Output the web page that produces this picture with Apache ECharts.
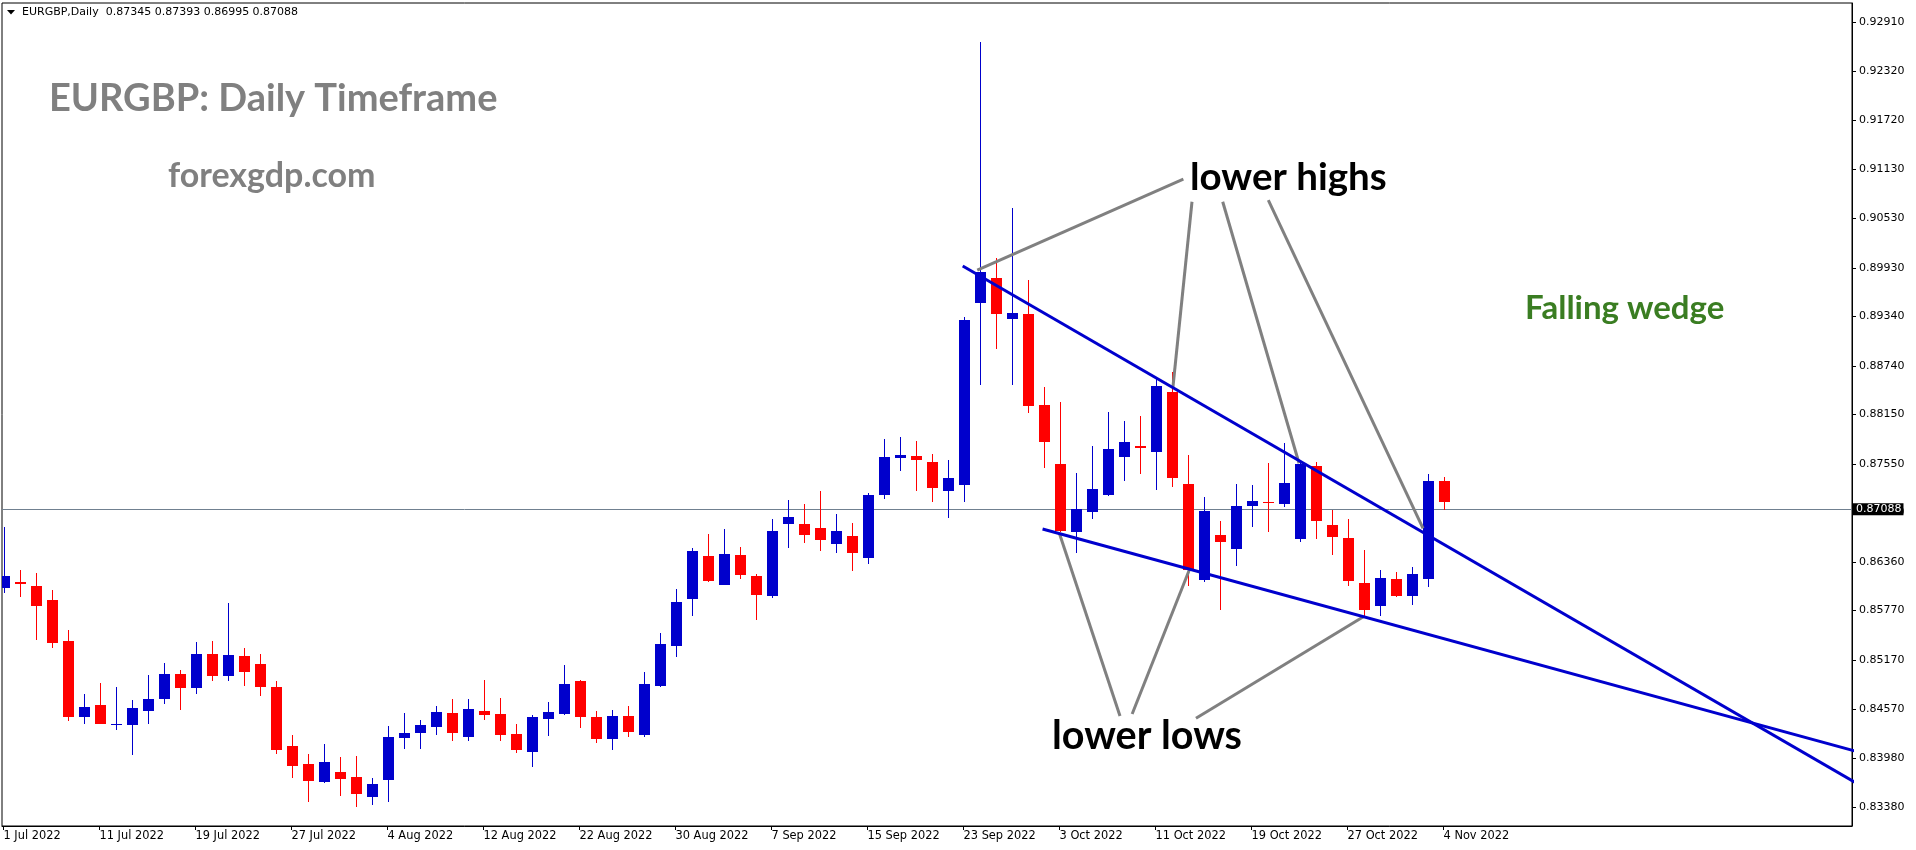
<!DOCTYPE html>
<html>
<head>
<meta charset="utf-8">
<script src="https://cdn.jsdelivr.net/npm/echarts@6/dist/echarts.min.js"></script>
<style>
html,body{margin:0;padding:0;background:#fff;}
#chart{width:1916px;height:850px;}
</style>
</head>
<body>
<div id="chart"></div>
<script>
// ---- data ----
const dates = [
'2022-07-01','2022-07-04','2022-07-05','2022-07-06','2022-07-07','2022-07-08','2022-07-11','2022-07-12','2022-07-13','2022-07-14',
'2022-07-15','2022-07-18','2022-07-19','2022-07-20','2022-07-21','2022-07-22','2022-07-25','2022-07-26','2022-07-27','2022-07-28',
'2022-07-29','2022-08-01','2022-08-02','2022-08-03','2022-08-04','2022-08-05','2022-08-08','2022-08-09','2022-08-10','2022-08-11',
'2022-08-12','2022-08-15','2022-08-16','2022-08-17','2022-08-18','2022-08-19','2022-08-22','2022-08-23','2022-08-24','2022-08-25',
'2022-08-26','2022-08-29','2022-08-30','2022-08-31','2022-09-01','2022-09-02','2022-09-05','2022-09-06','2022-09-07','2022-09-08',
'2022-09-09','2022-09-12','2022-09-13','2022-09-14','2022-09-15','2022-09-16','2022-09-19','2022-09-20','2022-09-21','2022-09-22',
'2022-09-23','2022-09-26','2022-09-27','2022-09-28','2022-09-29','2022-09-30','2022-10-03','2022-10-04','2022-10-05','2022-10-06',
'2022-10-07','2022-10-10','2022-10-11','2022-10-12','2022-10-13','2022-10-14','2022-10-17','2022-10-18','2022-10-19','2022-10-20',
'2022-10-21','2022-10-24','2022-10-25','2022-10-26','2022-10-27','2022-10-28','2022-10-31','2022-11-01','2022-11-02','2022-11-03',
'2022-11-04'];

const opens = [0.86048,0.86121,0.86069,0.85899,0.85401,0.84482,0.84624,0.84382,0.84385,0.84555,
0.84701,0.85001,0.84834,0.85243,0.84980,0.85219,0.85122,0.84843,0.84127,0.83908,
0.83693,0.83811,0.83750,0.83511,0.83717,0.84227,0.84288,0.84361,0.84527,0.84241,
0.84552,0.84515,0.84276,0.84059,0.84459,0.84519,0.84919,0.84481,0.84216,0.84493,
0.84264,0.84860,0.85337,0.85909,0.86437,0.86087,0.86450,0.86194,0.85943,0.86820,
0.86824,0.86778,0.86578,0.86680,0.86407,0.87170,0.87622,0.87647,0.87574,0.87226,
0.87299,0.89508,0.89808,0.89307,0.89375,0.88266,0.87550,0.86728,0.86971,0.87174,
0.87639,0.87765,0.87699,0.88424,0.87307,0.86145,0.86688,0.86522,0.87044,0.87089,
0.87068,0.86643,0.87526,0.86810,0.86652,0.86105,0.85830,0.86154,0.85951,0.86154,
0.87345];

const highs = [0.86789,0.86263,0.86227,0.86020,0.85535,0.84758,0.84891,0.84847,0.84685,0.84989,
0.85134,0.85049,0.85389,0.85401,0.85863,0.85316,0.85243,0.84916,0.84260,0.84029,
0.84155,0.83993,0.84005,0.83742,0.84373,0.84531,0.84446,0.84616,0.84697,0.84697,
0.84931,0.84709,0.84396,0.84507,0.84664,0.85111,0.84933,0.84554,0.84566,0.84617,
0.85026,0.85503,0.86036,0.86535,0.86705,0.86765,0.86547,0.86220,0.86888,0.87119,
0.87067,0.87225,0.86948,0.86837,0.87204,0.87848,0.87873,0.87829,0.87671,0.87599,
0.89338,0.92673,0.90055,0.90654,0.89784,0.88489,0.88303,0.87444,0.87769,0.88181,
0.88072,0.88133,0.88590,0.88667,0.87659,0.87149,0.86858,0.87307,0.87295,0.87562,
0.87805,0.87578,0.87578,0.86992,0.86882,0.86506,0.86263,0.86239,0.86303,0.87432,
0.87393];

const lows = [0.85988,0.85939,0.85417,0.85316,0.84434,0.84397,0.84390,0.84324,0.84021,0.84397,
0.84636,0.84567,0.84762,0.84919,0.84919,0.84859,0.84737,0.84033,0.83742,0.83450,
0.83681,0.83523,0.83390,0.83414,0.83450,0.84094,0.84094,0.84264,0.84181,0.84193,
0.84448,0.84181,0.84038,0.83867,0.84242,0.84507,0.84340,0.84157,0.84072,0.84230,
0.84230,0.84848,0.85209,0.85700,0.86120,0.86080,0.86152,0.85653,0.85929,0.86535,
0.86586,0.86493,0.86467,0.86250,0.86335,0.87123,0.87464,0.87228,0.87092,0.86898,
0.87092,0.88509,0.88950,0.88509,0.88173,0.87505,0.86730,0.86473,0.86886,0.87165,
0.87347,0.87432,0.87238,0.87275,0.86073,0.86121,0.85781,0.86315,0.86789,0.86728,
0.87032,0.86607,0.86643,0.86449,0.86073,0.85705,0.85705,0.85939,0.85842,0.86057,
0.86995];

const closes = [0.86190,0.86090,0.85830,0.85381,0.84482,0.84600,0.84397,0.84397,0.84588,0.84697,
0.85001,0.84834,0.85243,0.84980,0.85231,0.85029,0.84847,0.84082,0.83887,0.83705,
0.83932,0.83730,0.83548,0.83665,0.84236,0.84288,0.84385,0.84539,0.84290,0.84576,
0.84497,0.84254,0.84072,0.84481,0.84541,0.84882,0.84473,0.84216,0.84493,0.84293,
0.84882,0.85367,0.85878,0.86496,0.86126,0.86462,0.86198,0.85955,0.86731,0.86910,
0.86685,0.86624,0.86731,0.86467,0.87179,0.87639,0.87664,0.87593,0.87253,0.87380,
0.89298,0.89877,0.89375,0.89380,0.88258,0.87821,0.86737,0.87004,0.87247,0.87732,
0.87817,0.87748,0.88497,0.87384,0.86267,0.86980,0.86607,0.87040,0.87101,0.87080,
0.87319,0.87550,0.86862,0.86668,0.86133,0.85781,0.86166,0.85951,0.86215,0.87344,
0.87088];

// x-axis ticks: bar index -> label
const xTickIndex = [0,6,12,18,24,30,36,42,48,54,60,66,72,78,84,90];
const xTickLabels = ['1 Jul 2022','11 Jul 2022','19 Jul 2022','27 Jul 2022','4 Aug 2022','12 Aug 2022','22 Aug 2022','30 Aug 2022',
  '7 Sep 2022','15 Sep 2022','23 Sep 2022','3 Oct 2022','11 Oct 2022','19 Oct 2022','27 Oct 2022','4 Nov 2022'];

// y-axis tick labels
const yTicks = [0.92910,0.92320,0.91720,0.91130,0.90530,0.89930,0.89340,0.88740,0.88150,0.87550,
  0.86960,0.86360,0.85770,0.85170,0.84570,0.83980,0.83380];

// wedge trend lines [barIndex, price]
const upperWedge = [[59.95, 0.89954], [116, 0.83654]];
const lowerWedge = [[64.94, 0.86761], [116, 0.84050]];

// annotation pointer lines [barIndex, price]
const highNotes = [
  [[73.74, 0.91010], [60.86, 0.89905]],
  [[74.28, 0.90734], [73.09, 0.88485]],
  [[76.20, 0.90734], [80.97, 0.87559]],
  [[79.05, 0.90755], [88.72, 0.86769]]
];
const lowNotes = [
  [[69.78, 0.84491], [65.99, 0.86709]],
  [[70.54, 0.84515], [74.11, 0.86263]],
  [[74.53, 0.84463], [84.99, 0.85696]]
];

const header = 'EURGBP,Daily  0.87345 0.87393 0.86995 0.87088';
const lastPrice = closes[closes.length - 1];

// ---- chart ----
const chart = echarts.init(document.getElementById('chart'), null, {renderer: 'canvas'});
const UP = '#0000CC', DOWN = '#FF0000';
const candleRows = dates.map((d, i) => [i, opens[i], highs[i], lows[i], closes[i]]);

function renderCandle(params, api) {
  const i = api.value(0), o = api.value(1), h = api.value(2), l = api.value(3), c = api.value(4);
  const pO = api.coord([i, o]), pC = api.coord([i, c]), pH = api.coord([i, h]), pL = api.coord([i, l]);
  const bw = Math.round(api.size([1, 0])[0] * 0.69);
  const x = Math.round(pO[0]);
  const color = c >= o ? UP : DOWN;
  const top = Math.round(Math.min(pO[1], pC[1]));
  const bot = Math.round(Math.max(pO[1], pC[1]));
  const bh = Math.max(1, bot - top);
  return {
    type: 'group',
    children: [
      {type: 'line', shape: {x1: x + 0.5, y1: Math.round(pH[1]), x2: x + 0.5, y2: Math.round(pL[1])},
       style: {stroke: color, lineWidth: 1}},
      {type: 'rect', shape: {x: x + 1 - Math.ceil(bw / 2), y: top, width: bw, height: bh},
       style: {fill: color}}
    ]
  };
}

const seriesList = [];
seriesList.push({
  type: 'custom', name: 'EURGBP', renderItem: renderCandle, data: candleRows,
  encode: {x: 0, y: [1, 2, 3, 4]}, clip: true, z: 3, silent: true
});
function segSeries(pts, color, width, z) {
  return {type: 'line', data: pts, showSymbol: false, symbol: 'none', clip: true, z: z, silent: true,
    lineStyle: {color: color, width: width, cap: 'butt'}, animation: false};
}
const upperSeries = segSeries(upperWedge, '#0000CD', 3, 5);
upperSeries.markLine = {
  silent: true, symbol: ['none', 'none'], animation: false,
  lineStyle: {color: '#708090', width: 1, type: 'solid'},
  label: {show: true, position: 'end', distance: 1, formatter: () => lastPrice.toFixed(5),
    color: '#fff', backgroundColor: '#000', fontFamily: 'DejaVu Sans', fontSize: 11, padding: [1, 2, 0, 3]},
  data: [{yAxis: lastPrice}]
};
upperSeries.markLine.z = 2;
seriesList.push(upperSeries);
seriesList.push(segSeries(lowerWedge, '#0000CD', 3, 5));
highNotes.concat(lowNotes).forEach(seg => seriesList.push(segSeries(seg, '#808080', 3, 4)));

const option = {
  animation: false,
  backgroundColor: '#fff',
  grid: {left: 2, right: 64, top: 3, bottom: 24, show: true, borderColor: '#000', borderWidth: 1, backgroundColor: '#fff'},
  xAxis: {
    type: 'value', min: -0.09375, max: 115.53,
    axisLine: {show: true, onZero: false, lineStyle: {color: '#000', width: 1}},
    axisTick: {show: true, length: 4, lineStyle: {color: '#000'}, customValues: xTickIndex},
    axisLabel: {show: true, customValues: xTickIndex, margin: 5, align: 'left',
      color: '#000', fontFamily: 'DejaVu Sans', fontSize: 11.4,
      formatter: v => xTickLabels[xTickIndex.indexOf(Math.round(v))] || ''},
    splitLine: {show: false}
  },
  yAxis: {
    type: 'value', position: 'right', min: 0.83155, max: 0.93147, scale: true,
    axisLine: {show: true, onZero: false, lineStyle: {color: '#000', width: 1}},
    axisTick: {show: true, length: 4, lineStyle: {color: '#000'}, customValues: yTicks},
    axisLabel: {show: true, customValues: yTicks, margin: 7, color: '#000',
      fontFamily: 'DejaVu Sans', fontSize: 11, formatter: v => v.toFixed(5)},
    splitLine: {show: false}
  },
  graphic: [
    {type: 'polygon', shape: {points: [[7, 10], [15, 10], [11, 14.5]]}, style: {fill: '#000'}, z: 100},
    {type: 'text', x: 22, y: 12.5, style: {text: header, font: '11px "DejaVu Sans"', fill: '#000', verticalAlign: 'middle'}, z: 100},
    {type: 'text', x: 49, y: 99, style: {text: 'EURGBP: Daily Timeframe', font: 'bold 38px Lato', fill: '#808080', verticalAlign: 'middle'}, z: 100},
    {type: 'text', x: 168, y: 176, style: {text: 'forexgdp.com', font: 'bold 34px Lato', fill: '#808080', verticalAlign: 'middle'}, z: 100},
    {type: 'text', x: 1190, y: 178, style: {text: 'lower highs', font: 'bold 38.5px Lato', fill: '#000', verticalAlign: 'middle'}, z: 100},
    {type: 'text', x: 1052, y: 736, style: {text: 'lower lows', font: 'bold 39.5px Lato', fill: '#000', verticalAlign: 'middle'}, z: 100},
    {type: 'text', x: 1525, y: 308, style: {text: 'Falling wedge', font: 'bold 33px Lato', fill: '#3A7D22', verticalAlign: 'middle'}, z: 100}
  ],
  series: seriesList
};
chart.setOption(option);
</script>
</body>
</html>
